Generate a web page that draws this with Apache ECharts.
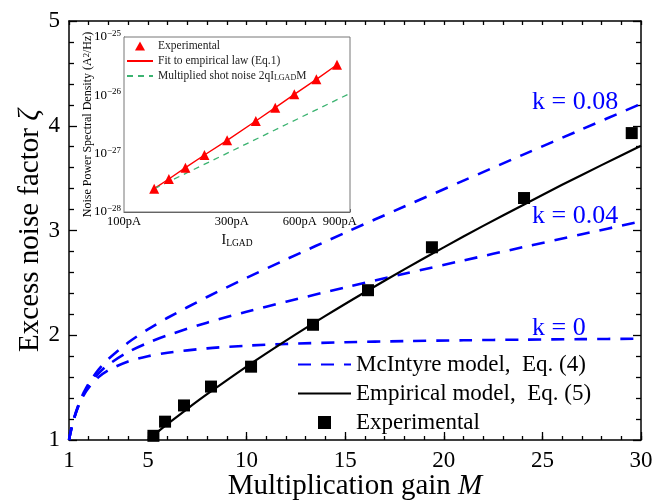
<!DOCTYPE html>
<html>
<head>
<meta charset="utf-8">
<script src="https://cdn.jsdelivr.net/npm/echarts@6/dist/echarts.min.js"></script>
<style>
    html, body {margin: 0; padding: 0; background: #fff;}
    #chart {width: 665px; height: 500px;}
</style>
</head>
<body>
<div id="chart"></div>
<script>
    // main plot: excess noise factor vs multiplication gain
    var gainGrid = [1, 1.1, 1.25, 1.5, 1.75, 2, 2.5, 3, 4, 5, 6, 8, 10, 12, 15, 18, 21, 24, 27, 30];
    var mcK0 = [1.00, 1.091, 1.20, 1.333, 1.429, 1.50, 1.60, 1.667, 1.75, 1.80, 1.833, 1.875, 1.90, 1.917, 1.933, 1.944, 1.952, 1.958, 1.963, 1.967];
    var mcK004 = [1.00, 1.091, 1.202, 1.34, 1.441, 1.52, 1.636, 1.72, 1.84, 1.928, 2.00, 2.12, 2.224, 2.32, 2.456, 2.587, 2.714, 2.84, 2.964, 3.088];
    var mcK008 = [1.00, 1.092, 1.204, 1.347, 1.454, 1.54, 1.672, 1.773, 1.93, 2.056, 2.167, 2.365, 2.548, 2.723, 2.979, 3.229, 3.476, 3.722, 3.966, 4.209];
    var empGain = [5, 6, 7, 8, 10, 12, 14, 16, 18, 20, 22, 24, 26, 28, 30];
    var empNoise = [1.00, 1.153, 1.298, 1.437, 1.701, 1.949, 2.185, 2.411, 2.629, 2.839, 3.044, 3.242, 3.436, 3.624, 3.808];
    var expGain = [5.28, 5.87, 6.83, 8.2, 10.23, 13.37, 16.16, 19.4, 24.07, 29.53];
    var expNoise = [1.04, 1.175, 1.33, 1.51, 1.70, 2.10, 2.43, 2.84, 3.31, 3.93];
    var gainTickLabels = [1, 5, 10, 15, 20, 25, 30];

    // inset: noise PSD vs LGAD current
    var insetCurrent = [136, 158, 187, 227, 286, 383, 467, 567, 710, 876];
    var insetPsd = [2.51e-28, 3.68e-28, 5.75e-28, 9.48e-28, 1.69e-27, 3.63e-27, 6.14e-27, 1.04e-26, 1.88e-26, 3.35e-26];
    var shotCurrent = [136, 1000];
    var shotPsd = [2.5e-28, 1.08e-26];
    var currentTickLabels = [100, 300, 600, 900];
    var currentMinorTicks = [100, 200, 300, 400, 500, 600, 700, 800, 900, 1000];
    var psdDecades = [1e-28, 1e-27, 1e-26, 1e-25];

    var FONT = 'Liberation Serif';
    var BLUE = '#0000ff';

    function pairs(xs, ys) {
        return xs.map(function (x, i) { return [x, ys[i]]; });
    }

    // inset axes are drawn on an overlay grid in decade units
    var curTickPos = currentMinorTicks.map(Math.log10);
    var curLabelPos = currentTickLabels.map(Math.log10);
    var psdTickPos = [];
    psdDecades.slice(0, 3).forEach(function (d) {
        for (var i = 1; i < 10; i++) psdTickPos.push(Math.log10(d * i));
    });
    psdTickPos.push(-25);
    var psdLabelPos = psdDecades.map(function (d) { return Math.round(Math.log10(d)); });

    function mcSeries(vals) {
        return {
            name: 'McIntyre model,  Eq. (4)',
            type: 'line',
            xAxisIndex: 0, yAxisIndex: 0,
            data: pairs(gainGrid, vals),
            smooth: 0.3,
            symbol: 'none',
            lineStyle: {color: BLUE, width: 2.6, type: [13, 10]},
            itemStyle: {color: BLUE}
        };
    }

    var chart = echarts.init(document.getElementById('chart'));

    var insetBox = {left: 124, top: 37, width: 226, height: 175, outerBoundsMode: 'none'};
    var mainBox = {left: 69, top: 21, right: 24, bottom: 60, outerBoundsMode: 'none'};

    var option = {
        backgroundColor: '#fff',
        animation: false,
        textStyle: {fontFamily: FONT, color: '#000'},
        grid: [
            mainBox,
            Object.assign({show: true, backgroundColor: '#fff', borderColor: '#777', borderWidth: 1, z: 5}, insetBox),
            mainBox,
            Object.assign({z: 6}, insetBox)
        ],
        xAxis: [
            {
                type: 'value', gridIndex: 0, position: 'bottom', min: 1, max: 30, interval: 1,
                name: 'Multiplication gain {i|M}', nameLocation: 'middle', nameGap: 31, nameMoveOverlap: false,
                nameTextStyle: {fontSize: 29, lineHeight: 30, color: '#000', fontFamily: FONT,
                    rich: {i: {fontSize: 29, lineHeight: 30, fontStyle: 'italic', fontFamily: FONT, color: '#000'}}},
                axisLine: {onZero: false, lineStyle: {color: '#000', width: 1.5}},
                axisTick: {inside: true, length: 8, customValues: gainTickLabels, lineStyle: {color: '#000', width: 1.3}},
                axisLabel: {customValues: gainTickLabels, fontSize: 23, color: '#000', margin: 9, fontFamily: FONT},
                splitLine: {show: false}
            },
            {
                type: 'value', gridIndex: 0, position: 'top', min: 1, max: 30, interval: 1,
                axisLine: {onZero: false, lineStyle: {color: '#000', width: 1.5}},
                axisTick: {inside: true, length: 4, lineStyle: {color: '#000', width: 1.3}},
                axisLabel: {show: false},
                splitLine: {show: false}
            },
            {
                type: 'log', logBase: 10, gridIndex: 1, min: 100, max: 1000,
                axisLine: {show: false}, axisTick: {show: false}, axisLabel: {show: false},
                splitLine: {show: false}
            },
            {
                type: 'value', gridIndex: 2, position: 'bottom', min: 1, max: 30, interval: 1,
                axisLine: {show: false},
                axisTick: {inside: true, length: 4, lineStyle: {color: '#000', width: 1.3}},
                axisLabel: {show: false},
                splitLine: {show: false}
            },
            {
                type: 'value', gridIndex: 3, position: 'bottom', min: 2, max: 3,
                name: 'I{sub|LGAD}', nameLocation: 'middle', nameGap: 20,
                nameTextStyle: {fontSize: 14, color: '#000', fontFamily: FONT,
                    rich: {sub: {fontSize: 9.5, verticalAlign: 'bottom', fontFamily: FONT, color: '#000', padding: [6, 0, 0, 0]}}},
                axisLine: {onZero: false, lineStyle: {color: '#555', width: 1}},
                axisTick: {inside: true, length: 3, customValues: curTickPos, lineStyle: {color: '#555', width: 1}},
                axisLabel: {customValues: curLabelPos, fontSize: 12.5, color: '#000', margin: 3, fontFamily: FONT,
                    formatter: function (v) { return Math.round(Math.pow(10, v)) + 'pA'; }},
                splitLine: {show: false}
            }
        ],
        yAxis: [
            {
                type: 'value', gridIndex: 0, position: 'left', min: 1, max: 5, interval: 1,
                name: 'Excess noise factor {i|ζ}', nameLocation: 'middle', nameGap: 24, nameMoveOverlap: false,
                nameTextStyle: {fontSize: 29, lineHeight: 30, color: '#000', fontFamily: FONT,
                    rich: {i: {fontSize: 29, lineHeight: 30, fontStyle: 'italic', fontFamily: FONT, color: '#000'}}},
                axisLine: {onZero: false, lineStyle: {color: '#000', width: 1.5}},
                axisTick: {inside: true, length: 8, lineStyle: {color: '#000', width: 1.3}},
                minorTick: {show: true, splitNumber: 5, length: 5, lineStyle: {color: '#000', width: 1.3}},
                axisLabel: {fontSize: 23, color: '#000', margin: 9, fontFamily: FONT},
                splitLine: {show: false}
            },
            {
                type: 'value', gridIndex: 0, position: 'right', min: 1, max: 5, interval: 1,
                axisLine: {onZero: false, lineStyle: {color: '#000', width: 1.5}},
                axisTick: {inside: true, length: 8, lineStyle: {color: '#000', width: 1.3}},
                minorTick: {show: true, splitNumber: 5, length: 5, lineStyle: {color: '#000', width: 1.3}},
                axisLabel: {show: false},
                splitLine: {show: false}
            },
            {
                type: 'log', logBase: 10, gridIndex: 1, min: 1e-28, max: 1e-25,
                axisLine: {show: false}, axisTick: {show: false}, axisLabel: {show: false},
                splitLine: {show: false}
            },
            {
                type: 'value', gridIndex: 2, min: 1, max: 5, show: false
            },
            {
                type: 'value', gridIndex: 3, position: 'left', min: -28, max: -25, interval: 1,
                name: 'Noise Power Spectral Density (A{sup|2}/Hz)', nameLocation: 'middle', nameGap: 30, nameMoveOverlap: false,
                nameTextStyle: {fontSize: 12, color: '#000', fontFamily: FONT,
                    rich: {sup: {fontSize: 8.5, verticalAlign: 'top', fontFamily: FONT, color: '#000'}}},
                axisLine: {onZero: false, lineStyle: {color: '#555', width: 1}},
                axisTick: {inside: true, length: 3, customValues: psdTickPos, lineStyle: {color: '#555', width: 1}},
                axisLabel: {customValues: psdLabelPos, fontSize: 13, color: '#000', margin: 3, fontFamily: FONT,
                    formatter: function (v) {
                        return '10{s|−' + (-Math.round(v)) + '}';
                    },
                    rich: {s: {fontSize: 9, verticalAlign: 'top', fontFamily: FONT, color: '#000', padding: [0, 0, 7, 0]}}},
                splitLine: {show: false}
            }
        ],
        legend: [
            {
                orient: 'vertical', left: 297, top: 353, padding: 0,
                itemWidth: 53, itemHeight: 13, itemGap: 6,
                textStyle: {fontSize: 23, color: '#000', fontFamily: FONT},
                data: [
                    {name: 'McIntyre model,  Eq. (4)', itemStyle: {opacity: 0}},
                    {name: 'Empirical model,  Eq. (5)', itemStyle: {opacity: 0}},
                    {name: 'Experimental', icon: 'path://M0,0L10,0L10,10L0,10Z'}
                ]
            },
            {
                orient: 'vertical', left: 126, top: 40, z: 10, padding: 0,
                itemWidth: 26, itemHeight: 9, itemGap: 3,
                textStyle: {fontSize: 11.5, color: '#222', fontFamily: FONT,
                    rich: {sub: {fontSize: 8, verticalAlign: 'bottom', fontFamily: FONT, color: '#222'}}},
                formatter: function (name) {
                    return name.replace('LGAD', '{sub|LGAD}');
                },
                data: [
                    {name: 'Experimental ', icon: 'path://M5,0L10,9L0,9Z'},
                    {name: 'Fit to empirical law (Eq.1)', itemStyle: {opacity: 0}},
                    {name: 'Multiplied shot noise 2qILGADM', itemStyle: {opacity: 0}}
                ]
            }
        ],
        graphic: [
            {type: 'text', left: 532, top: 89, style: {text: 'k = 0.08', fontSize: 26, fontFamily: FONT, fill: BLUE}},
            {type: 'text', left: 532, top: 203, style: {text: 'k = 0.04', fontSize: 26, fontFamily: FONT, fill: BLUE}},
            {type: 'text', left: 532, top: 315, style: {text: 'k = 0', fontSize: 26, fontFamily: FONT, fill: BLUE}}
        ],
        series: [
            mcSeries(mcK0),
            mcSeries(mcK004),
            mcSeries(mcK008),
            {
                name: 'Empirical model,  Eq. (5)',
                type: 'line',
                xAxisIndex: 0, yAxisIndex: 0,
                data: pairs(empGain, empNoise),
                smooth: 0.3,
                symbol: 'none',
                lineStyle: {color: '#000', width: 2.2},
                itemStyle: {color: '#000'}
            },
            {
                name: 'Experimental',
                type: 'scatter',
                xAxisIndex: 0, yAxisIndex: 0,
                data: pairs(expGain, expNoise),
                symbol: 'rect',
                symbolSize: 12,
                itemStyle: {color: '#000', opacity: 1},
                z: 4
            },
            {
                name: 'Fit to empirical law (Eq.1)',
                type: 'line',
                xAxisIndex: 2, yAxisIndex: 2,
                data: pairs(insetCurrent, insetPsd),
                symbol: 'none',
                lineStyle: {color: '#ff0000', width: 1.4},
                itemStyle: {color: '#ff0000'},
                z: 6
            },
            {
                name: 'Multiplied shot noise 2qILGADM',
                type: 'line',
                xAxisIndex: 2, yAxisIndex: 2,
                data: pairs(shotCurrent, shotPsd),
                symbol: 'none',
                lineStyle: {color: '#3cb371', width: 1.3, type: [6, 5]},
                itemStyle: {color: '#3cb371'},
                z: 6
            },
            {
                name: 'Experimental ',
                type: 'scatter',
                xAxisIndex: 2, yAxisIndex: 2,
                data: pairs(insetCurrent, insetPsd),
                symbol: 'triangle',
                symbolSize: 10,
                itemStyle: {color: '#ff0000', opacity: 1},
                z: 7
            }
        ]
    };

    chart.setOption(option);
</script>
</body>
</html>
